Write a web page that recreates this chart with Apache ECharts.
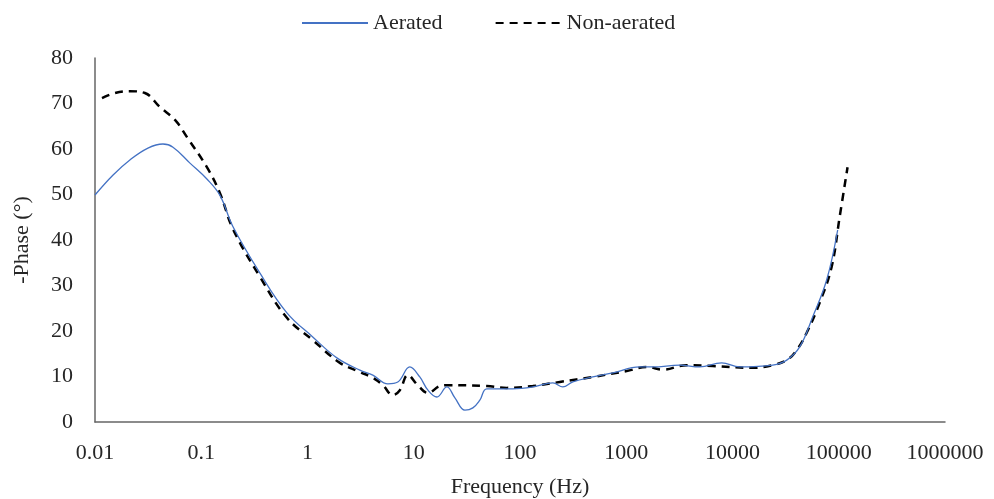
<!DOCTYPE html>
<html>
<head>
<meta charset="utf-8">
<script src="https://cdn.jsdelivr.net/npm/echarts@6/dist/echarts.min.js"></script>
<style>html,body{margin:0;padding:0;background:#fff}#c{width:994px;height:499px}</style>
</head>
<body>
<div id="c"></div>
<script>
var aeratedFreq = [0.01, 0.0148, 0.0213, 0.0315, 0.0436, 0.0542, 0.0783, 0.113, 0.15, 0.199, 0.357, 0.64, 1.12, 1.89, 3.11, 4.12, 5.71, 7.08, 9.18, 11.4, 13.6, 16.5, 20.5, 24.4, 30.3, 36, 41.9, 48.7, 85.5, 132, 204, 253, 314, 484, 746, 1340, 1775, 3186, 4910, 7910, 11700, 23900, 32400, 42900, 56800, 76900, 97700];
var aeratedPhase = [49.9, 54.3, 57.6, 60.2, 61.1, 60.4, 56.9, 53.4, 49.8, 42.9, 32.7, 24.0, 18.7, 14.1, 11.4, 10.3, 8.4, 8.8, 12.1, 9.9, 7.0, 5.5, 7.7, 5.3, 2.6, 3.1, 4.8, 7.3, 7.3, 7.7, 8.6, 7.7, 8.8, 9.9, 10.8, 12.1, 12.1, 12.5, 12.1, 13.0, 12.1, 12.5, 13.6, 16.5, 23.1, 31.2, 42.2];

var nonFreq = [0.01164, 0.0154, 0.0213, 0.0295, 0.0409, 0.0566, 0.0734, 0.113, 0.15, 0.199, 0.357, 0.64, 1.12, 2.02, 3.11, 4.12, 5.12, 6.36, 7.40, 8.79, 10.9, 13.6, 17.6, 20.5, 48.7, 75.2, 132, 237, 484, 1011, 1560, 2206, 3710, 6510, 15500, 23900, 32400, 40200, 49900, 66100, 85700, 102000, 121000];
var nonPhase = [71.2, 72.3, 72.7, 72.3, 69.2, 66.4, 62.6, 56.0, 50.3, 42.4, 31.9, 22.9, 18.0, 13.0, 11.0, 9.7, 8.1, 5.9, 7.0, 10.3, 8.1, 6.4, 7.9, 8.1, 7.9, 7.5, 7.9, 8.8, 9.9, 11.2, 12.1, 11.5, 12.5, 12.3, 11.9, 12.5, 13.6, 15.8, 19.6, 26.2, 34.1, 45.1, 56.0];

var seriesNames = ['Aerated', 'Non-aerated'];
var yTicks = [0, 10, 20, 30, 40, 50, 60, 70, 80];

function pairs(xs, ys) { return xs.map(function (x, i) { return [x, ys[i]]; }); }

var font = "'Liberation Serif', 'Times New Roman', serif";
var chart = echarts.init(document.getElementById('c'), null, { renderer: 'canvas' });
chart.setOption({
  animation: false,
  backgroundColor: '#fff',
  textStyle: { fontFamily: font },
  legend: {
    top: 7,
    left: 296,
    itemWidth: 66,
    itemHeight: 14,
    itemGap: 52,
    itemStyle: { opacity: 0, borderWidth: 0 },
    textStyle: { fontFamily: font, fontSize: 22, color: '#262626' },
    data: seriesNames
  },
  grid: { left: 95, right: 49, top: 58, bottom: 77, containLabel: false, outerBoundsMode: 'none' },
  xAxis: {
    type: 'log',
    logBase: 10,
    min: 0.01,
    max: 1000000,
    splitNumber: 8,
    name: 'Frequency (Hz)',
    nameLocation: 'middle',
    nameGap: 54,
    nameTextStyle: { fontFamily: font, fontSize: 22, color: '#262626' },
    axisLine: { show: true, lineStyle: { color: '#666', width: 1.5 } },
    axisTick: { show: false },
    splitLine: { show: false },
    axisLabel: {
      margin: 20,
      fontFamily: font, fontSize: 22, color: '#262626',
      formatter: function (v) { return String(Number(v.toPrecision(6))); }
    }
  },
  yAxis: {
    type: 'value',
    min: yTicks[0],
    max: yTicks[yTicks.length - 1],
    interval: 10,
    name: '-Phase (°)',
    nameLocation: 'middle',
    nameGap: 62,
    nameTextStyle: { fontFamily: font, fontSize: 22, color: '#262626' },
    axisLine: { show: true, lineStyle: { color: '#666', width: 1.5 } },
    axisTick: { show: false },
    splitLine: { show: false },
    axisLabel: { margin: 22, fontFamily: font, fontSize: 22, color: '#262626' }
  },
  series: [
    {
      name: seriesNames[0],
      type: 'line',
      data: pairs(aeratedFreq, aeratedPhase),
      smooth: 0.4,
      symbol: 'none',
      lineStyle: { color: '#4472C4', width: 1.3 },
      itemStyle: { color: '#4472C4' },
      z: 3
    },
    {
      name: seriesNames[1],
      type: 'line',
      data: pairs(nonFreq, nonPhase),
      smooth: 0.4,
      symbol: 'none',
      lineStyle: { color: '#000', width: 2.5, type: [8, 6] },
      itemStyle: { color: '#000' },
      z: 2
    }
  ]
});
</script>
</body>
</html>
